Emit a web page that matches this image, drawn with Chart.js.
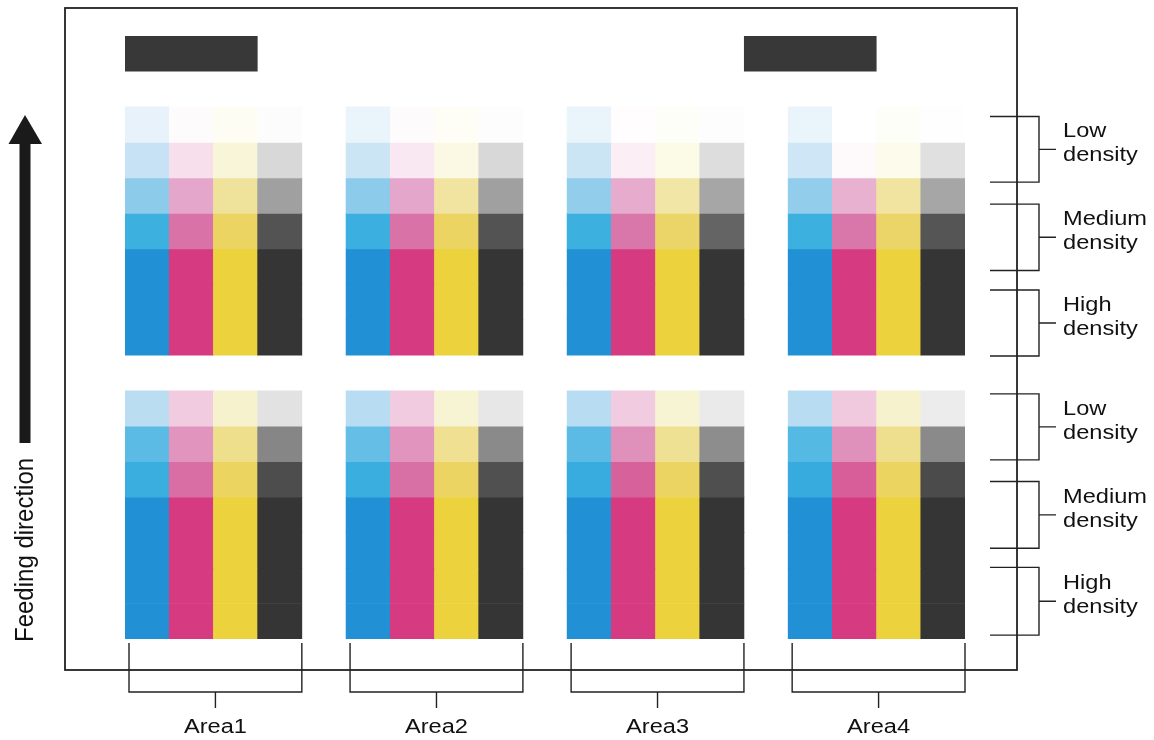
<!DOCTYPE html>
<html lang="en">
<head>
  <meta charset="UTF-8">
  <title>Density patches</title>
  <style>
    body { margin: 0; background: #fff; }
    .wrap { width: 1154px; height: 740px; position: relative; }
  </style>
  <script src="https://cdn.jsdelivr.net/npm/chart.js"></script>
</head>
<body>
  <div class="wrap"><canvas id="patchChart"></canvas></div>

  <script>
    const areas = ['Area1', 'Area2', 'Area3', 'Area4'];
    const inks = ['C', 'M', 'Y', 'K'];
    const levels = ['Low', 'Medium', 'High'];

    // tint density (%) of each patch, one row per patch row (top first), columns C M Y K
    const upperArea1 = [[8, 2, 5, 3], [20, 18, 18, 20], [40, 40, 40, 40], [60, 60, 60, 62], [100, 100, 100, 100], [100, 100, 100, 100], [100, 100, 100, 100]];
    const upperArea2 = [[7, 2, 4, 2], [18, 12, 12, 20], [40, 40, 38, 40], [62, 60, 60, 62], [100, 100, 100, 100], [100, 100, 100, 100], [100, 100, 100, 100]];
    const upperArea3 = [[7, 1, 3, 2], [18, 8, 10, 18], [38, 38, 36, 38], [60, 58, 58, 56], [100, 100, 100, 100], [100, 100, 100, 100], [100, 100, 100, 100]];
    const upperArea4 = [[7, 0, 3, 1], [17, 3, 8, 17], [38, 36, 38, 38], [60, 58, 58, 60], [100, 100, 100, 100], [100, 100, 100, 100], [100, 100, 100, 100]];
    const lowerArea1 = [[24, 26, 22, 16], [52, 47, 45, 47], [64, 63, 62, 70], [100, 100, 100, 100], [100, 100, 100, 100], [100, 100, 100, 100], [100, 100, 100, 100]];
    const lowerArea2 = [[25, 26, 20, 14], [50, 47, 43, 46], [64, 62, 60, 66], [100, 100, 100, 100], [100, 100, 100, 100], [100, 100, 100, 100], [100, 100, 100, 100]];
    const lowerArea3 = [[25, 26, 20, 13], [52, 48, 42, 45], [66, 72, 60, 68], [100, 100, 100, 100], [100, 100, 100, 100], [100, 100, 100, 100], [100, 100, 100, 100]];
    const lowerArea4 = [[25, 27, 22, 12], [54, 48, 44, 46], [67, 74, 62, 72], [100, 100, 100, 100], [100, 100, 100, 100], [100, 100, 100, 100], [100, 100, 100, 100]];

    const upperBlock = [upperArea1, upperArea2, upperArea3, upperArea4];
    const lowerBlock = [lowerArea1, lowerArea2, lowerArea3, lowerArea4];
    // black registration marks: centre column of each 3-column mark
    const markCols = [1, 15];

    // ink colour ramps (density % -> colour)
    const ramps = {
      C: [[0, '#ffffff'], [8, '#e7f2fa'], [20, '#c6e2f4'], [40, '#8ccbea'], [60, '#3cb1e0'], [100, '#2190d4']],
      M: [[0, '#ffffff'], [8, '#fbeef5'], [20, '#f6dcea'], [40, '#e4a6ca'], [60, '#d872a7'], [100, '#d63a80']],
      Y: [[0, '#ffffff'], [8, '#fdfcec'], [20, '#f7f4d4'], [40, '#efe29a'], [60, '#ecd462'], [100, '#ecd33e']],
      K: [[0, '#ffffff'], [8, '#f6f6f6'], [20, '#d8d8d8'], [40, '#a0a0a0'], [60, '#555555'], [100, '#353535']]
    };

    function hexRgb(h) {
      return [1, 3, 5].map(i => parseInt(h.substr(i, 2), 16));
    }

    function tint(ink, d) {
      const r = ramps[ink];
      for (let i = 1; i < r.length; i++) {
        if (d <= r[i][0]) {
          const t = (d - r[i - 1][0]) / (r[i][0] - r[i - 1][0]);
          const a = hexRgb(r[i - 1][1]), b = hexRgb(r[i][1]);
          const c = a.map((v, k) => Math.round(v + (b[k] - v) * t));
          return `rgb(${c[0]},${c[1]},${c[2]})`;
        }
      }
      return r[r.length - 1][1];
    }

    // columns: 4 inks per area, one empty column between areas
    const columns = [];
    areas.forEach((area, a) => {
      inks.forEach((ink, i) => columns.push({ label: area + ' ' + ink, area: a, ink: i }));
      if (a < areas.length - 1) columns.push({ label: '', area: -1, ink: -1 });
    });
    const labels = columns.map(c => c.label);

    const datasets = [];
    [upperBlock, lowerBlock].forEach((block, b) => {
      const rowCount = block[0].length;
      for (let r = 0; r < rowCount; r++) {
        const y0 = b * (rowCount + 1) + r;
        datasets.push({
          label: (b ? 'lower' : 'upper') + ' row ' + (r + 1),
          data: columns.map(c => c.area < 0 ? null : [y0, y0 + 1]),
          backgroundColor: columns.map(c => c.area < 0 ? 'rgba(0,0,0,0)' : tint(inks[c.ink], block[c.area][r][c.ink]))
        });
      }
    });
    datasets.push({
      label: 'marks',
      data: columns.map((c, i) => markCols.includes(i) ? [-2, -1] : null),
      backgroundColor: '#383838',
      barPercentage: 3
    });

    const bandsUpper = [[0.27, 2.12], [2.74, 4.61], [5.16, 7.02]];
    const bandsLower = [[8.09, 9.95], [10.56, 12.44], [12.98, 14.89]];

    function stretchedText(ctx, text, x, y, align) {
      ctx.save();
      ctx.translate(x, y);
      ctx.scale(1.18, 1);
      ctx.textAlign = align;
      ctx.fillText(text, 0, 0);
      ctx.restore();
    }

    const figurePlugin = {
      id: 'figure',
      afterDraw(chart) {
        const ctx = chart.ctx;
        const xs = chart.scales.x, ys = chart.scales.y;
        const area = chart.chartArea;
        const edge = c => xs.getPixelForValue(c - 0.5);

        ctx.save();
        ctx.strokeStyle = '#222';
        ctx.fillStyle = '#111';

        // page frame
        ctx.lineWidth = 1.8;
        ctx.strokeRect(65, 8, 952, 662);

        // density brackets on the right
        ctx.lineWidth = 1.4;
        ctx.font = '20px "Liberation Sans", Arial, sans-serif';
        ctx.textBaseline = 'alphabetic';
        [bandsUpper, bandsLower].forEach(bands => {
          bands.forEach((band, i) => {
            const top = ys.getPixelForValue(band[0]);
            const bot = ys.getPixelForValue(band[1]);
            const mid = (top + bot) / 2;
            const xb = area.right + 74;
            ctx.beginPath();
            ctx.moveTo(area.right + 25, top); ctx.lineTo(xb, top);
            ctx.lineTo(xb, bot); ctx.lineTo(area.right + 25, bot);
            ctx.moveTo(xb, mid); ctx.lineTo(xb + 17, mid);
            ctx.stroke();
            stretchedText(ctx, levels[i], xb + 24, mid - 12, 'left');
            stretchedText(ctx, 'density', xb + 24, mid + 12, 'left');
          });
        });

        // area brackets at the bottom
        const yb = ys.getPixelForValue(15);
        areas.forEach((name, a) => {
          const first = a * 5;
          const l = edge(first) + 4, r = edge(first + 4);
          const c = (l + r) / 2;
          ctx.beginPath();
          ctx.moveTo(l, yb + 4); ctx.lineTo(l, yb + 53);
          ctx.lineTo(r, yb + 53); ctx.lineTo(r, yb + 4);
          ctx.moveTo(c, yb + 53); ctx.lineTo(c, yb + 69);
          ctx.stroke();
          stretchedText(ctx, name, c, yb + 94, 'center');
        });

        // feeding direction arrow
        ctx.fillStyle = '#1a1a1a';
        ctx.fillRect(19.5, 143, 11, 300);
        ctx.beginPath();
        ctx.moveTo(25, 115); ctx.lineTo(42, 144); ctx.lineTo(8.5, 144);
        ctx.closePath();
        ctx.fill();

        ctx.fillStyle = '#111';
        ctx.translate(33, 642);
        ctx.rotate(-Math.PI / 2);
        ctx.scale(1, 1.07);
        ctx.font = '24px "Liberation Sans", Arial, sans-serif';
        ctx.textAlign = 'left';
        ctx.fillText('Feeding direction', 0, 0);
        ctx.restore();
      }
    };

    new Chart(document.getElementById('patchChart'), {
      type: 'bar',
      data: { labels: labels, datasets: datasets },
      options: {
        responsive: true,
        maintainAspectRatio: false,
        animation: false,
        layout: { padding: { left: 125, right: 189, top: 36, bottom: 101 } },
        datasets: {
          bar: { categoryPercentage: 1, barPercentage: 1, grouped: false, borderWidth: 0 }
        },
        plugins: {
          legend: { display: false },
          tooltip: { enabled: false }
        },
        scales: {
          x: { display: false },
          y: { display: false, min: -2, max: 15, reverse: true }
        }
      },
      plugins: [figurePlugin]
    });
  </script>
</body>
</html>
